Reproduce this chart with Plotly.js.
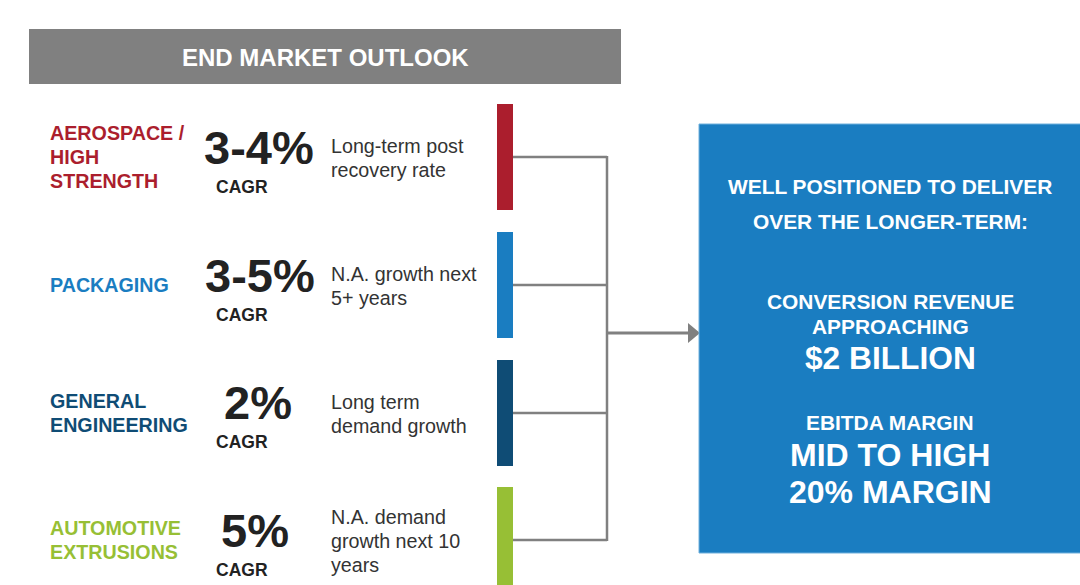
<!DOCTYPE html>
<html>
<head>
<meta charset="utf-8">
<script src="https://cdn.plot.ly/plotly-3.0.1.min.js"></script>
<style>html,body{margin:0;padding:0;background:#fff;}#chart{width:1080px;height:585px;}</style>
</head>
<body>
<div id="chart"></div>
<script>
// ---- data ----
var headerTitle = "END MARKET OUTLOOK";
var categories = ["AEROSPACE /<br>HIGH<br>STRENGTH", "PACKAGING", "GENERAL<br>ENGINEERING", "AUTOMOTIVE<br>EXTRUSIONS"];
var cagrValues = ["3-4%", "3-5%", "2%", "5%"];
var cagrLabel = "CAGR";
var descriptions = ["Long-term post<br>recovery rate", "N.A. growth next<br>5+ years", "Long term<br>demand growth", "N.A. demand<br>growth next 10<br>years"];
var summaryIntro = ["WELL POSITIONED TO DELIVER", "OVER THE LONGER-TERM:"];
var revenueLabel = ["CONVERSION REVENUE", "APPROACHING"];
var revenueValue = "$2 BILLION";
var marginLabel = "EBITDA MARGIN";
var marginValue = ["MID TO HIGH", "20% MARGIN"];

// ---- styles / layout ----
var catColors = ["#ab1e2d", "#1a7dc1", "#0f4c75", "#97bf35"];
var rowCenters = [157, 285, 413, 540];
var cagrX = [259, 260, 258, 255];
var cagrY = [147, 275, 402, 530];
var catY = [157, 285, 413, 539.5];
var descY = [158, 286, 414, 541];
var LINE = 24;
var FONT = "Arial";
var grey = "#808080";

var shapes = [];
var annotations = [];

function multiline(text, x, yc, opts) {
  var lines = text.split("<br>");
  var n = lines.length;
  for (var k = 0; k < n; k++) {
    var y = yc + (k - (n - 1) / 2) * LINE;
    annotations.push({x:x, y:y, xref:"x", yref:"y", text:opts.bold ? "<b>"+lines[k]+"</b>" : lines[k], showarrow:false, align:"left", xanchor:"left", yanchor:"middle", font:{family:FONT, size:opts.size, color:opts.color}});
  }
}

// header
shapes.push({type:"rect", xref:"x", yref:"y", x0:29, x1:621, y0:29, y1:84, fillcolor:grey, line:{width:0}, layer:"below"});
annotations.push({x:325, y:57, xref:"x", yref:"y", text:"<b>"+headerTitle+"</b>", showarrow:false, font:{family:FONT, size:24, color:"#fff"}, xanchor:"center", yanchor:"middle"});

// rows
for (var i = 0; i < categories.length; i++) {
  var c = rowCenters[i];
  shapes.push({type:"rect", xref:"x", yref:"y", x0:497, x1:513, y0:c-53, y1:c+53, fillcolor:catColors[i], line:{width:0}});
  shapes.push({type:"line", xref:"x", yref:"y", x0:513, x1:607, y0:c, y1:c, line:{color:grey, width:2.5}});
  multiline(categories[i], 48, catY[i], {bold:true, size:19.7, color:catColors[i]});
  annotations.push({x:cagrX[i], y:cagrY[i], xref:"x", yref:"y", text:"<b>"+cagrValues[i]+"</b>", showarrow:false, xanchor:"center", yanchor:"middle", font:{family:FONT, size:47, color:"#222"}});
  annotations.push({x:242, y:cagrY[i]+40, xref:"x", yref:"y", text:"<b>"+cagrLabel+"</b>", showarrow:false, xanchor:"center", yanchor:"middle", font:{family:FONT, size:17.5, color:"#222"}});
  multiline(descriptions[i], 329, descY[i], {bold:false, size:19.7, color:"#333"});
}
// vertical connector + arrow
shapes.push({type:"line", xref:"x", yref:"y", x0:607, x1:607, y0:rowCenters[0]-1, y1:rowCenters[3]+1, line:{color:grey, width:2.5}});
shapes.push({type:"line", xref:"x", yref:"y", x0:607, x1:690, y0:333, y1:333, line:{color:grey, width:3}});
shapes.push({type:"path", xref:"x", yref:"y", path:"M 688 323 L 700 333 L 688 343 Z", fillcolor:grey, line:{width:0}});

// summary box
shapes.push({type:"rect", xref:"x", yref:"y", x0:699, x1:1085, y0:124, y1:553, fillcolor:"#1a7dc1", line:{color:"#6fb0dc", width:1}});
var bx = 890;
function boxText(txt, y, size) {
  annotations.push({x:bx, y:y, xref:"x", yref:"y", text:"<b>"+txt+"</b>", showarrow:false, xanchor:"center", yanchor:"middle", font:{family:FONT, size:size, color:"#fff"}});
}
boxText(summaryIntro[0], 186, 20.9);
boxText(summaryIntro[1], 221, 20.9);
boxText(revenueLabel[0], 301, 20.9);
boxText(revenueLabel[1], 326, 20.9);
boxText(revenueValue, 358, 31.7);
boxText(marginLabel, 422, 20.9);
boxText(marginValue[0], 455, 32);
boxText(marginValue[1], 492, 32);

var layout = {
  width:1080, height:585,
  margin:{l:0, r:0, t:0, b:0},
  paper_bgcolor:"#fff", plot_bgcolor:"#fff",
  font:{family:FONT},
  xaxis:{range:[0,1080], visible:false, fixedrange:true},
  yaxis:{range:[585,0], visible:false, fixedrange:true},
  showlegend:false,
  shapes:shapes,
  annotations:annotations
};
Plotly.newPlot("chart", [{x:[], y:[], type:"scatter", hoverinfo:"skip"}], layout, {displayModeBar:false, staticPlot:true});
</script>
</body>
</html>
